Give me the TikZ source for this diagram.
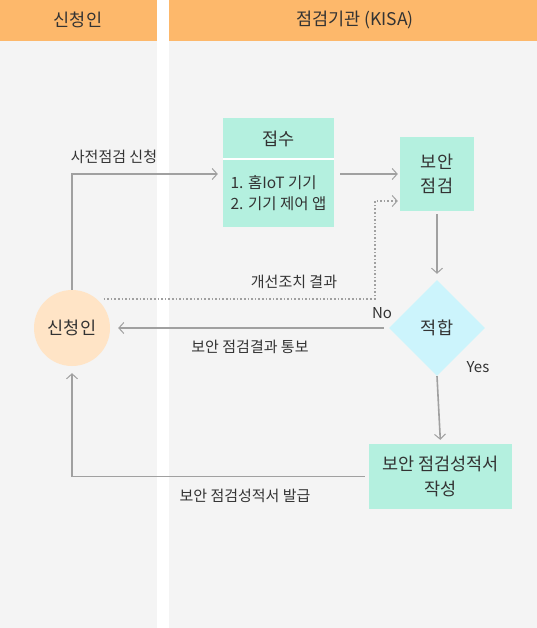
\documentclass[tikz,border=0pt]{standalone}
\usepackage{fontspec}
\setmainfont{Noto Sans CJK KR}
\usetikzlibrary{arrows.meta,positioning,shapes.geometric}
\definecolor{laneorange}{HTML}{FDB86B}
\definecolor{lanegray}{HTML}{F4F4F4}
\definecolor{mint}{HTML}{B4F0DF}
\definecolor{peach}{HTML}{FFE4C6}
\definecolor{skyblue}{HTML}{CCF4FC}
\definecolor{linegray}{HTML}{A0A0A0}
\definecolor{ink}{HTML}{333333}

\begin{document}
\begin{tikzpicture}[
  x=1pt,y=-1pt,
  font=\fontsize{17.5}{24}\selectfont,text=ink,
  lane/.style={fill=lanegray,draw=none},
  head/.style={fill=laneorange,draw=none},
  box/.style={fill=mint,align=center,inner sep=0pt},
  label/.style={font=\fontsize{15}{18}\selectfont},
  arrow/.style={draw=linegray,line width=1.6pt,-{Straight Barb[length=5pt,width=11pt,line width=1pt]}},
  dotarrow/.style={arrow,dotted}
]
\useasboundingbox (0,0) rectangle (537,628);
% swimlanes
\fill[lane] (0,41) rectangle (157,628);
\fill[lane] (169,41) rectangle (537,628);
\fill[head] (0,0) rectangle (157,41);
\fill[head] (169,0) rectangle (537,41);
\node (lhead) at (78,20) {신청인};
\node (rhead) at (355,20) {점검기관 (KISA)};

% nodes
\node[box,minimum width=111,minimum height=41] (jeopsu) at (278.5,138.5) {접수};
\node[box,minimum width=111,minimum height=68,below=0pt of jeopsu,
  font=\fontsize{15.5}{21}\selectfont,align=left] (items) {1. 홈IoT 기기\\2. 기기 제어 앱};
\draw[white,line width=2pt] (jeopsu.south west) -- (jeopsu.south east);
\node[box,minimum width=74,minimum height=74] (check) at (437,174) {보안\\점검};
\node[circle,fill=peach,minimum size=76,inner sep=0pt] (applicant) at (72,328) {신청인};
\node[diamond,fill=skyblue,minimum width=96,minimum height=96,inner sep=0pt,aspect=1] (fit) at (437,328) {적합};
\node[box,minimum width=143,minimum height=65,font=\fontsize{17.5}{25}\selectfont] (report) at (440.5,476.5) {보안 점검성적서\\작성};

% connectors
\draw[arrow] (applicant.north) |- ([xshift=-5pt]items.west |- check.west);
\draw[arrow] ([xshift=6pt]items.east |- check.west) -- ([xshift=-2pt]check.west);
\draw[dotarrow] ([xshift=7pt]applicant.50) -| ([xshift=-25pt,yshift=-27pt]check.west)
  -- ([xshift=-2pt,yshift=-27pt]check.west);
\draw[arrow,shorten <=3pt,shorten >=6pt] (check.south) -- (fit.north);
\draw[arrow,shorten <=5pt,shorten >=8pt] (fit.west) -- (applicant.east);
\draw[arrow,shorten >=4pt] (fit.south) -- (report.north);
\draw[arrow] ([xshift=-4pt]report.west) -| ([yshift=-7pt]applicant.south);

% labels
\node[label] (lreq) at (114,157) {사전점검 신청};
\node[label] (lfix) at (294,282) {개선조치 결과};
\node[label] (lno) at (382,313) {No};
\node[label] (lres) at (250,347) {보안 점검결과 통보};
\node[label] (lyes) at (478,367) {Yes};
\node[label] (liss) at (245,496) {보안 점검성적서 발급};
\end{tikzpicture}
\end{document}
